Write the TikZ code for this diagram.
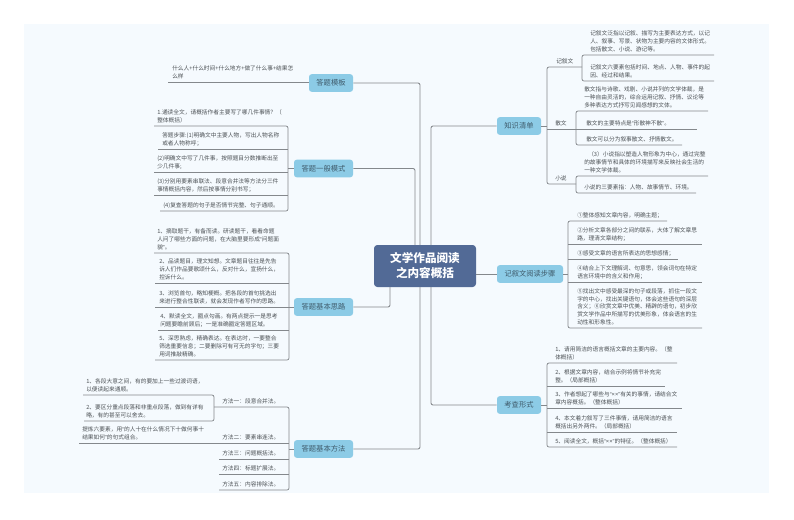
\documentclass[tikz,border=0pt]{standalone}
\usepackage{fontspec}
\setmainfont{Noto Sans CJK SC}
\newfontfamily\latn{Liberation Sans}
\newcommand{\lqq}{{\latn “}}
\newcommand{\rqq}{{\latn ”}}
\newcommand{\xx}{{\latn ××}}
\definecolor{bgc}{HTML}{F5FAFE}
\definecolor{rootc}{HTML}{526A96}
\definecolor{branchc}{HTML}{8CCBE6}
\definecolor{linec}{HTML}{84888C}
\definecolor{textc}{HTML}{4C5155}
\definecolor{btextc}{HTML}{3F5B6B}
\tikzset{
  txt/.style={anchor=south west,inner xsep=0pt,inner ysep=2.2pt,align=left,text=textc,
    font=\fontsize{4.28}{5.7}\selectfont,text depth=0.6pt},
  branch/.style={fill=branchc,rounded corners=2pt,text=btextc,inner sep=0pt,
    minimum height=13.2pt,font=\fontsize{5.45}{7}\selectfont},
  rootbox/.style={fill=rootc,rounded corners=2.5pt,text=white,inner sep=0pt,align=center,
    minimum width=76.5pt,minimum height=31.5pt,font=\fontsize{8.7}{11.2}\selectfont\bfseries},
  conn/.style={draw=linec,line width=0.65pt,rounded corners=1.5pt},
  sub/.style={draw=linec,line width=0.55pt,rounded corners=1.5pt}
}
\newcommand{\tx}[6]{%
  \coordinate (#1-l) at (#2,#4);
  \coordinate (#1-r) at (#3,#4);
  \node[txt] (#1) at ({#2+#5},#4) {#6};
}
\begin{document}
\begin{tikzpicture}[x=0.75pt,y=-0.75pt]
\useasboundingbox (0,0) rectangle (794,519);
\fill[bgc] (24,24) rectangle (769,493);

% hubs
\node[rootbox] (root) at (425,266) {文学作品阅读\\之内容概括};
\node[branch,minimum width=33pt] (b1) at (331,83) {答题模板};
\node[branch,minimum width=44.25pt] (b2) at (323.5,168.5) {答题一般模式};
\node[branch,minimum width=44.25pt] (b3) at (323.5,307) {答题基本思路};
\node[branch,minimum width=44.25pt] (b4) at (323.5,449) {答题基本方法};
\node[branch,minimum width=33pt] (k) at (519,126) {知识清单};
\node[branch,minimum width=49.5pt] (r2) at (530,274) {记叙文阅读步骤};
\node[branch,minimum width=33pt] (r3) at (519,405) {考查形式};

\coordinate (ra) at (420,245);
\coordinate (rb) at (415,245);
\coordinate (rc) at (390,287);
\coordinate (rd) at (420,287);
\coordinate (re) at (431,245);
\coordinate (rf) at (431,287);
\draw[conn] (b1.east) -| (ra);
\draw[conn] (b2.east) -| (rb);
\draw[conn] (b3.east) -| (rc);
\draw[conn] (b4.east) -| (rd);
\draw[conn] (k.west) -| (re);
\draw[conn] (r3.west) -| (rf);
\draw[conn] (r2.west -| root.east) -- (r2.west);

% template
\tx{m1}{168}{309}{82.5}{4}{什么人+什么时间+什么地方+做了什么事+结果怎\\么样}
\draw[sub] (m1-l) -- (m1-r);

% general mode
\tx{a1}{154}{288}{126}{3}{1.通读全文，请概括作者主要写了哪几件事情？（\\整体概括）}
\tx{a2}{158}{288}{149.5}{4}{答题步骤:(1)明确文中主要人物，写出人物名称\\或者人物称呼；}
\tx{a3}{154}{288}{172}{3}{(2)明确文中写了几件事，按照题目分数推断出至\\少几件事;}
\tx{a4}{154}{288}{195}{3}{(3)分别用要素串联法、段意合并法等方法分三件\\事情概括内容，然后按事情分别书写；}
\tx{a5}{160}{288}{211}{3}{(4)复查答题的句子是否情节完整、句子通顺。}
\draw[sub] (a1-l) -- (a1-r) -- (a5-r) -- (a5-l);
\draw[sub] (a2-l) -- (a2-r);
\draw[sub] (a3-l) -- (a3-r);
\draw[sub] (a4-l) -- (a4-r);
\draw[sub] (b2.west) -- (b2.west -| a1-r);

% thinking
\tx{c1}{154}{289}{253}{3}{1、摘取题干，有备而读。研读题干，看看命题\\人问了哪些方面的问题，在大脑里要形成\lqq 问题面\\貌\rqq 。}
\tx{c2}{155}{289}{283}{4}{2、品读题目，理文知想。文章题目往往是先告\\诉人们作品要歌颂什么，反对什么，宣扬什么，\\控诉什么。}
\tx{c3}{155}{289}{307}{4}{3、浏览首句，略知梗概。把各段的首句挑选出\\来进行整合性联读，就会发现作者写作的思路。}
\tx{c4}{158}{289}{330}{2}{4、默读全文，圈点勾画。有两点提示一是思考\\问题要瞻前顾后；一是准确圈定答题区域。}
\tx{c5}{155}{289}{360}{4}{5、深思熟虑，精确表达。在表达时，一要整合\\筛选重要信息；二要删除可有可无的字句；三要\\用词推敲精确。}
\draw[sub] (c1-l) -- (c1-r) -- (c5-r) -- (c5-l);
\draw[sub] (c2-l) -- (c2-r);
\draw[sub] (c3-l) -- (b3.west);
\draw[sub] (c4-l) -- (c4-r);

% methods
\tx{e1}{83}{214}{395}{3}{1、各段大意之间，有的要加上一些过渡词语，\\以便读起来通顺。}
\tx{e2}{84}{214}{421}{2}{2、要区分重点段落和非重点段落，做到有详有\\略，有的甚至可以舍去。}
\draw[sub] (e1-l) -- (e1-r) -- (e2-r) -- (e2-l);
\tx{d1}{214}{289}{407}{8}{方法一：段意合并法。}
\tx{e3}{79}{289}{443}{3}{提炼六要素，用\lqq 的人十在什么情况下十做何事十\\结果如何\rqq 的句式组合。}
\node[txt] (d2) at (222,443) {方法二：要素串连法。};
\tx{d3}{219}{289}{459}{3}{方法三：问题概括法。}
\tx{d4}{219}{289}{474}{3}{方法四：标题扩展法。}
\tx{d5}{219}{289}{490}{3}{方法五：内容排除法。}
\draw[sub] (d1-l) -- (d1-r) -- (d5-r) -- (d5-l);
\draw[sub] (e3-l) -- (e3-r);
\draw[sub] (d3-l) -- (d3-r);
\draw[sub] (d4-l) -- (d4-r);
\draw[sub] (b4.west) -- (b4.west -| d1-r);

% knowledge list
\tx{jx}{547}{582}{67}{9}{记叙文}
\tx{sw}{547}{576}{129}{8}{散文}
\tx{xs}{547}{576}{184}{8}{小说}
\draw[sub] (jx-r) -- (jx-l) -- (xs-l) -- (xs-r);
\draw[sub] (sw-l) -- (sw-r);
\draw[sub] (k.east) -- (k.east -| jx-l);

\tx{j1}{582}{714}{55}{8}{记叙文泛指以记叙、描写为主要表达方式，以记\\人、叙事、写景、状物为主要内容的文体形式。\\包括散文、小说、游记等。}
\tx{j2}{582}{714}{81}{8}{记叙文六要素包括时间、地点、人物、事件的起\\因、经过和结果。}
\draw[sub] (j1-r) -- (j1-l) -- (j2-l) -- (j2-r);

\tx{s1}{576}{708}{111}{8}{散文指与诗歌、戏剧、小说并列的文学体裁，是\\一种自由灵活的，综合运用记叙、抒情、议论等\\多种表达方式抒写见闻感想的文体。}
\tx{s2}{576}{697}{129}{10}{散文的主要特点是\lqq 形散神不散\rqq 。}
\tx{s3}{576}{682}{145}{10}{散文可以分为叙事散文、抒情散文。}
\draw[sub] (s1-r) -- (s1-l) -- (s3-l) -- (s3-r);
\draw[sub] (s2-l) -- (s2-r);

\tx{x1}{576}{708}{176}{8}{\hspace*{3pt}（3）小说指以塑造人物形象为中心，通过完整\\的故事情节和具体的环境描写来反映社会生活的\\一种文学体裁。}
\tx{x2}{576}{696}{193}{8}{小说的三要素指：人物、故事情节、环境。}
\draw[sub] (x1-r) -- (x1-l) -- (x2-l) -- (x2-r);

% reading steps
\tx{f1}{568}{667}{221}{9}{①整体感知文章内容，明确主题；}
\tx{f2}{568}{702}{244}{9}{②分析文章各部分之间的联系，大体了解文章思\\路，理清文章结构；}
\tx{f3}{568}{678}{259}{9}{③感受文章的语言所表达的思想感情；}
\tx{f4}{568}{702}{282}{9}{④结合上下文理解词、句意思，领会词句在特定\\语言环境中的含义和作用；}
\tx{f5}{568}{702}{328}{9}{⑤找出文中感受最深的句子或段落，抓住一段文\\字的中心，找出关键语句，体会这些语句的深层\\含义；⑥欣赏文章中优美、精辟的语句，初步欣\\赏文学作品中所描写的优美形象，体会语言的生\\动性和形象性。}
\draw[sub] (f1-r) -- (f1-l) -- (f5-l) -- (f5-r);
\draw[sub] (f2-l) -- (f2-r);
\draw[sub] (f3-l) -- (f3-r);
\draw[sub] (f4-l) -- (f4-r);
\draw[sub] (r2.east) -- (r2.east -| f1-l);

% exam forms
\tx{g1}{547}{677}{363}{8}{1、请用简洁的语言概括文章的主要内容。（整\\体概括）}
\tx{g2}{547}{665}{386}{8}{2、根据文章内容，结合示例将情节补充完\\整。（局部概括）}
\tx{g3}{547}{682}{408}{8}{3、作者想起了哪些与\lqq \xx\rqq 有关的事情，请结合文\\章内容概括。（整体概括）}
\tx{g4}{547}{677}{432}{8}{4、本文着力叙写了三件事情，请用简洁的语言\\概括出另外两件。（局部概括）}
\tx{g5}{547}{677}{447}{8}{5、阅读全文，概括\lqq \xx\rqq 的特征。（整体概括）}
\draw[sub] (g1-r) -- (g1-l) -- (g5-l) -- (g5-r);
\draw[sub] (g2-l) -- (g2-r);
\draw[sub] (g3-l) -- (g3-r);
\draw[sub] (g4-l) -- (g4-r);
\draw[sub] (r3.east) -- (r3.east -| g1-l);
\end{tikzpicture}
\end{document}
